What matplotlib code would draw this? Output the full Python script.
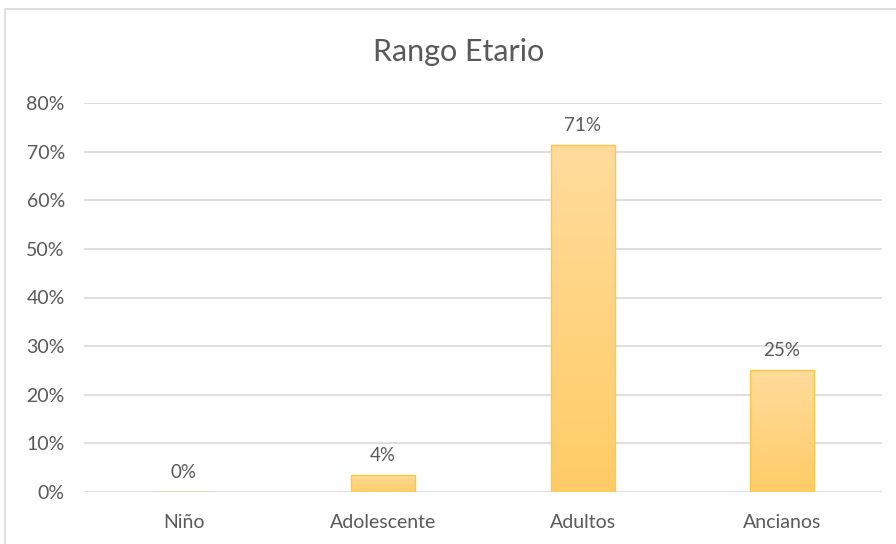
import numpy as np
import matplotlib
matplotlib.use('Agg')
import matplotlib.pyplot as plt
from matplotlib.patches import Rectangle
from matplotlib.colors import LinearSegmentedColormap
from matplotlib.ticker import PercentFormatter, MultipleLocator

# data
categories = ['Niño', 'Adolescente', 'Adultos', 'Ancianos']
values     = [0.0, 0.0357, 0.7143, 0.25]
labels     = ['0%', '4%', '71%', '25%']

TEXT  = '#595959'
GRID  = '#D9D9D9'
EDGE  = '#FFC83D'
plt.rcParams['font.family'] = ['Lato', 'DejaVu Sans']

fig = plt.figure(figsize=(8.96, 5.44), dpi=100)
ax = fig.add_axes([0.094, 1 - 492/544, 0.890, (492 - 103)/544])

# chart frame (excel style)
fig.patches.append(Rectangle((5/896, -0.1), 1.2, (544 - 9)/544 + 0.1,
                             transform=fig.transFigure, fill=False,
                             edgecolor=GRID, linewidth=1.2))

x = np.arange(len(categories))
width = 0.32
bars = ax.bar(x, values, width, color='none', edgecolor=EDGE, linewidth=1.0, zorder=3)

# vertical gradient fill
cmap = LinearSegmentedColormap.from_list('g', ['#FFCC66', '#FFDB9C'])
grad = np.linspace(0, 1, 256).reshape(-1, 1)
for b in bars:
    if b.get_height() <= 0:
        continue
    im = ax.imshow(grad, cmap=cmap, aspect='auto', origin='lower',
                   extent=[b.get_x(), b.get_x() + b.get_width(), 0, b.get_height()],
                   zorder=2)
    im.set_clip_path(b)

for xi, v, lab in zip(x, values, labels):
    ax.annotate(lab, (xi, v), xytext=(0, 8), textcoords='offset points',
                ha='center', va='bottom', fontsize=13.5, color=TEXT)

ax.set_xlim(-0.5, len(categories) - 0.5)
ax.set_ylim(0, 0.8)
ax.yaxis.set_major_locator(MultipleLocator(0.1))
ax.yaxis.set_major_formatter(PercentFormatter(1.0, decimals=0))
ax.set_xticks(x, categories)
ax.grid(axis='y', color=GRID, linewidth=1.2, zorder=0)
ax.set_axisbelow(True)
for s in ax.spines.values():
    s.set_visible(False)
ax.tick_params(length=0, colors=TEXT, labelsize=14)
ax.tick_params(axis='y', pad=14)
ax.tick_params(axis='x', pad=16)

fig.text(459/896, 1 - 52/544, 'Rango Etario', ha='center', va='center',
         fontsize=22, color=TEXT)

fig.savefig('out.png', dpi=100)
